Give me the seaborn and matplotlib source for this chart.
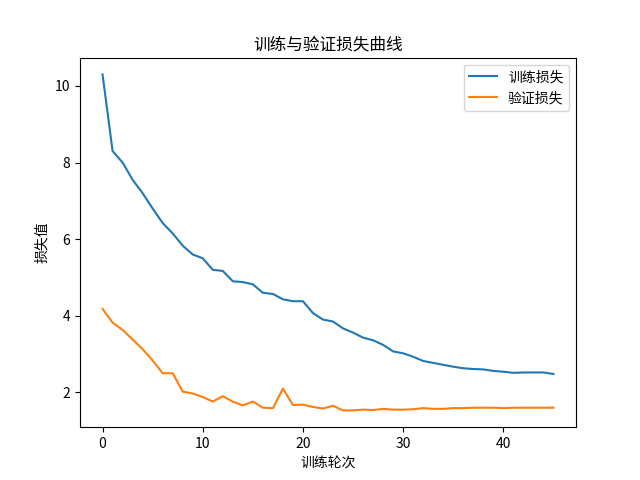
import matplotlib
matplotlib.use("Agg")
import matplotlib.pyplot as plt
import seaborn as sns
import pandas as pd

plt.rcParams['font.family'] = ['Noto Sans CJK SC', 'DejaVu Sans']
plt.rcParams['axes.unicode_minus'] = False

epochs = list(range(46))
train_loss = [10.3, 8.3, 8.0, 7.55, 7.2, 6.8, 6.42, 6.15, 5.83, 5.6, 5.5, 5.2, 5.17, 4.9, 4.88, 4.82,
              4.6, 4.57, 4.43, 4.38, 4.38, 4.07, 3.9, 3.85, 3.67, 3.56, 3.43, 3.36, 3.24, 3.07, 3.02,
              2.93, 2.82, 2.77, 2.72, 2.67, 2.63, 2.61, 2.6, 2.56, 2.54, 2.51, 2.52, 2.52, 2.52, 2.48]
val_loss = [4.18, 3.82, 3.63, 3.38, 3.13, 2.83, 2.5, 2.5, 2.02, 1.97, 1.88, 1.76, 1.9, 1.76, 1.66, 1.76,
            1.6, 1.59, 2.1, 1.67, 1.68, 1.62, 1.58, 1.65, 1.53, 1.53, 1.55, 1.54, 1.57, 1.55, 1.55,
            1.56, 1.59, 1.57, 1.57, 1.59, 1.59, 1.6, 1.6, 1.6, 1.59, 1.6, 1.6, 1.6, 1.6, 1.6]

df = pd.DataFrame({'epoch': epochs * 2,
                   'loss': train_loss + val_loss,
                   'series': ['训练损失'] * 46 + ['验证损失'] * 46})

fig, ax = plt.subplots(figsize=(6.4, 4.8), dpi=100)
sns.lineplot(data=df, x='epoch', y='loss', hue='series', palette=['#1f77b4', '#ff7f0e'], ax=ax)
ax.set_title('训练与验证损失曲线')
ax.set_xlabel('训练轮次')
ax.set_ylabel('损失值')
ax.legend(title=None, loc='upper right')
fig.savefig('out.png', dpi=100)
